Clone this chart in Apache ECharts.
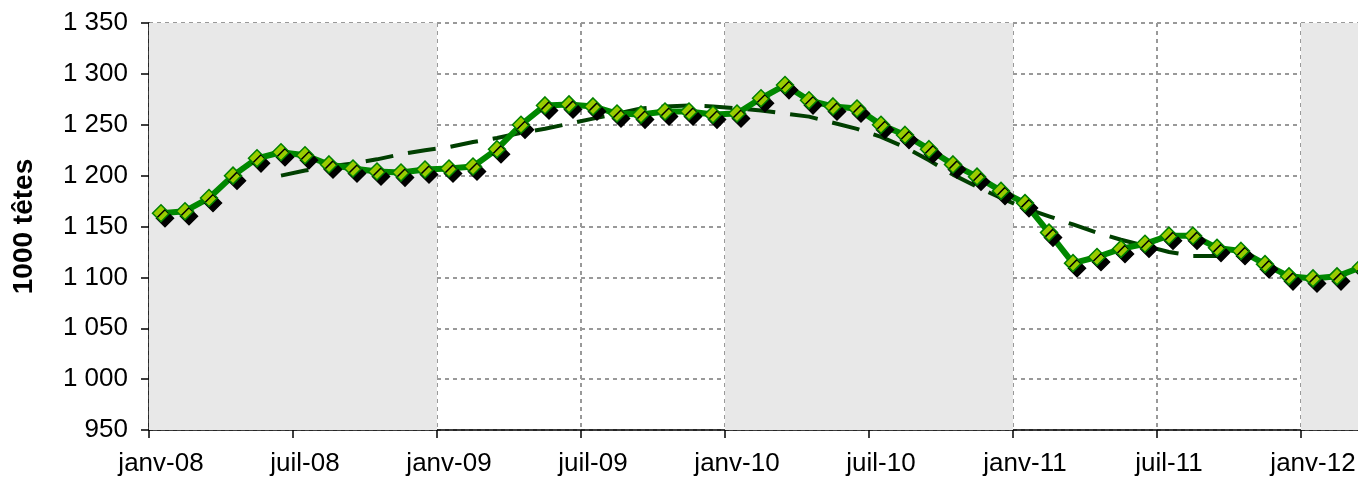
<!DOCTYPE html>
<html>
<head>
<meta charset="utf-8">
<script src="https://cdn.jsdelivr.net/npm/echarts@6/dist/echarts.min.js"></script>
<style>
  html, body { margin: 0; padding: 0; background: #fff; overflow: hidden; }
  #chart { width: 1373px; height: 482px; }
</style>
</head>
<body>
<div id="chart"></div>
<script>
var monthNames = ["janv", "févr", "mars", "avr", "mai", "juin", "juil", "août", "sept", "oct", "nov", "déc"];
var years = ["08", "09", "10", "11", "12"];

// cheptel mensuel (1000 têtes), janv-08 .. mars-12
var herd = [
  1163, 1165, 1178, 1200, 1217, 1223, 1220, 1211, 1207, 1204, 1203, 1206,
  1207, 1209, 1226, 1250, 1269, 1270, 1268, 1261, 1260, 1263, 1263, 1260,
  1261, 1276, 1289, 1274, 1268, 1266, 1250, 1240, 1226, 1211, 1199, 1185,
  1173, 1144, 1114, 1120, 1128, 1133, 1141, 1141, 1129, 1126, 1113, 1101,
  1099, 1101, 1110
];

// moyenne glissante (tirets)
var trend = [
  null, null, null, null, null, 1200, 1205, 1209, 1212, 1216, 1221, 1225,
  1228, 1233, 1237, 1242, 1246, 1251, 1256, 1261, 1266, 1268, 1269, 1268,
  1266, 1264, 1261, 1258, 1252, 1246, 1238, 1228, 1215, 1201, 1189, 1178,
  1168, 1160, 1152, 1144, 1137, 1131, 1125, 1121, 1121, null, null, null,
  null, null, null
];

// bandes grises (années paires), en mois depuis janv-08
var shadedYears = [[0, 12], [24, 36], [48, 51]];

var categories = [];
years.forEach(function (y) {
  monthNames.forEach(function (m) {
    if (categories.length < herd.length) categories.push(m + "-" + y);
  });
});

var chart = echarts.init(document.getElementById("chart"));

var font = "'Liberation Sans', Arial, sans-serif";

chart.setOption({
  animation: false,
  grid: {
    left: 149,
    right: 0,
    top: 23,
    bottom: 52,
  },
  xAxis: [
    {
      type: "category",
      data: categories,
      boundaryGap: true,
      axisLine: { lineStyle: { color: "#000", width: 1.5 } },
      axisTick: { show: true, interval: 5, length: 8, lineStyle: { color: "#000", width: 1.5 } },
      axisLabel: {
        interval: 5,
        margin: 21,
        color: "#000",
        fontSize: 26,
        fontFamily: font,
      },
      splitLine: {
        show: true,
        interval: 5,
        lineStyle: { color: "#999", width: 2, type: [4, 4] },
      },
    },
    {
      type: "value",
      min: 0,
      max: 51,
      show: false,
    },
  ],
  yAxis: {
    type: "value",
    min: 950,
    max: 1350,
    interval: 50,
    name: "1000 têtes",
    nameLocation: "middle",
    nameGap: 111,
    nameTextStyle: { color: "#000", fontSize: 28, fontWeight: "bold", fontFamily: font },
    axisLine: { show: true, lineStyle: { color: "#000", width: 1.5 } },
    axisTick: { show: true, length: 8, lineStyle: { color: "#000", width: 1.5 } },
    axisLabel: {
      margin: 21,
      color: "#000",
      fontSize: 26,
      fontFamily: font,
      formatter: function (v) {
        if (v < 1000) return String(v);
        var r = String(v % 1000);
        while (r.length < 3) r = "0" + r;
        return Math.floor(v / 1000) + " " + r;
      },
    },
    splitLine: {
      show: true,
      lineStyle: { color: "#999", width: 2, type: [4, 4] },
    },
  },
  series: [
    {
      type: "line",
      xAxisIndex: 1,
      data: [],
      z: -1,
      silent: true,
      markArea: {
        silent: true,
        itemStyle: { color: "#e8e8e8" },
        data: shadedYears.map(function (b) {
          return [{ xAxis: b[0] }, { xAxis: b[1] }];
        }),
      },
    },
    {
      type: "line",
      data: trend,
      symbol: "none",
      lineStyle: { color: "#003f00", width: 4, type: [28, 15] },
      z: 2,
    },
    {
      type: "line",
      data: herd,
      symbol: "diamond",
      symbolSize: 17,
      showAllSymbol: true,
      lineStyle: { color: "#008800", width: 6 },
      itemStyle: {
        color: "#99cc00",
        borderColor: "#008000",
        borderWidth: 1.5,
        shadowColor: "#000",
        shadowBlur: 0,
        shadowOffsetX: 4,
        shadowOffsetY: 5,
      },
      z: 3,
    },
  ],
});
</script>
</body>
</html>
